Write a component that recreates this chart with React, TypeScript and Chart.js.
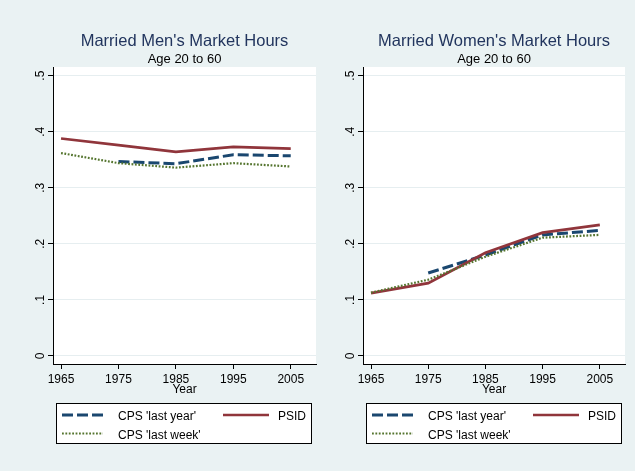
import React, { useEffect, useRef } from "react";
import { Chart, registerables } from "chart.js";

Chart.register(...registerables);

// ---------- data ----------
const years = [1965, 1975, 1985, 1995, 2005];
const xTickLabels = ["1965", "1975", "1985", "1995", "2005"];
const yTickValues = [0, 0.1, 0.2, 0.3, 0.4, 0.5];
const yTickLabels = ["0", ".1", ".2", ".3", ".4", ".5"];
const seriesNames = ["CPS 'last year'", "PSID", "CPS 'last week'"];

const menCpsLastYear = [null, 0.347, 0.343, 0.359, 0.357];
const menPsid = [0.388, 0.376, 0.364, 0.373, 0.37];
const menCpsLastWeek = [0.362, 0.344, 0.336, 0.344, 0.338];

const womenCpsLastYear = [null, 0.148, 0.18, 0.216, 0.224];
const womenPsid = [0.112, 0.13, 0.184, 0.22, 0.234];
const womenCpsLastWeek = [0.113, 0.136, 0.177, 0.211, 0.216];

const panelTitles = ["Married Men's Market Hours", "Married Women's Market Hours"];
const panelSubtitle = "Age 20 to 60";
const xTitle = "Year";

// ---------- style ----------
const FONT = '"Liberation Sans", Arial, Helvetica, sans-serif';
const BG = "#eaf2f3";
const GRID = "#e6eef0";
const TITLE_COLOR = "#22355e";
const NAVY = "#1a476f";
const MAROON = "#90353b";
const GREEN = "#55752f";

Chart.defaults.font.family = FONT;

function makeChart(
  canvas: HTMLCanvasElement,
  idx: number,
  cpsYear: (number | null)[],
  psid: number[],
  cpsWeek: number[],
  padRight: number
) {
  const decor = {
    id: "decor" + idx,
    beforeDraw(chart: any) {
      const { ctx, chartArea: a } = chart;
      ctx.save();
      ctx.fillStyle = "#ffffff";
      ctx.fillRect(a.left, a.top, a.right - a.left, a.bottom - a.top);
      ctx.restore();
    },
    afterDraw(chart: any) {
      const { ctx, chartArea: a } = chart;
      const cx = (a.left + a.right) / 2;
      ctx.save();
      ctx.textAlign = "center";
      ctx.textBaseline = "alphabetic";
      ctx.fillStyle = TITLE_COLOR;
      ctx.font = `16.5px ${FONT}`;
      ctx.fillText(panelTitles[idx], cx, 46);
      ctx.fillStyle = "#000";
      ctx.font = `13px ${FONT}`;
      ctx.fillText(panelSubtitle, cx, 63);

      // rotated y tick labels
      ctx.font = `12px ${FONT}`;
      const ys = chart.scales.y;
      yTickValues.forEach((v, i) => {
        const py = ys.getPixelForValue(v);
        ctx.save();
        ctx.translate(a.left - 9, py);
        ctx.rotate(-Math.PI / 2);
        ctx.textAlign = "center";
        ctx.fillText(yTickLabels[i], 0, 0);
        ctx.restore();
      });

      // legend box
      const L = a.left;
      ctx.fillStyle = "#ffffff";
      ctx.fillRect(L + 3.5, 403.5, 255, 40);
      ctx.strokeStyle = "#000";
      ctx.lineWidth = 1;
      ctx.strokeRect(L + 3.5, 403.5, 255, 40);
      const slots = [
        { x0: L + 9, x1: L + 52, tx: L + 65, y: 415, by: 420 },
        { x0: L + 170, x1: L + 216, tx: L + 225, y: 415, by: 420 },
        { x0: L + 9, x1: L + 50, tx: L + 65, y: 433.5, by: 438.5 },
      ];
      ctx.font = `12px ${FONT}`;
      chart.data.datasets.forEach((ds: any, i: number) => {
        const s = slots[i];
        ctx.strokeStyle = ds.borderColor;
        ctx.lineWidth = ds.borderWidth;
        ctx.setLineDash(ds.borderDash || []);
        ctx.lineCap = "butt";
        ctx.beginPath();
        ctx.moveTo(s.x0, s.y);
        ctx.lineTo(s.x1, s.y);
        ctx.stroke();
        ctx.setLineDash([]);
        ctx.fillStyle = "#000";
        ctx.textAlign = "left";
        ctx.fillText(ds.label, s.tx, s.by);
      });
      ctx.restore();
    },
  };

  const toPts = (arr: (number | null)[]) => years.map((x, i) => ({ x, y: arr[i] }));

  return new Chart(canvas, {
    type: "line",
    data: {
      datasets: [
        {
          label: seriesNames[0],
          data: toPts(cpsYear) as any,
          borderColor: NAVY,
          borderWidth: 3,
          borderDash: [11, 4],
          order: 3,
        },
        {
          label: seriesNames[1],
          data: toPts(psid) as any,
          borderColor: MAROON,
          borderWidth: 2.7,
          order: 2,
        },
        {
          label: seriesNames[2],
          data: toPts(cpsWeek) as any,
          borderColor: GREEN,
          borderWidth: 2.2,
          borderDash: [1.8, 1.6],
          order: 1,
        },
      ],
    },
    options: {
      responsive: false,
      animation: false,
      devicePixelRatio: 1,
      layout: { padding: { left: 0, right: padRight, top: 67, bottom: 71 } },
      plugins: {
        legend: { display: false },
        tooltip: { enabled: false },
        title: { display: false },
      },
      elements: {
        point: { radius: 0 },
        line: { tension: 0, borderCapStyle: "butt", fill: false },
      },
      scales: {
        x: {
          type: "linear",
          min: 1963.6,
          max: 2009.4,
          afterBuildTicks: (s: any) => {
            s.ticks = years.map((v) => ({ value: v }));
          },
          afterFit: (s: any) => {
            s.height = 36;
          },
          ticks: {
            callback: (v: any) => {
              const k = years.indexOf(Number(v));
              return k >= 0 ? xTickLabels[k] : "";
            },
            color: "#000",
            font: { size: 12 },
            padding: 3,
            maxRotation: 0,
            autoSkip: false,
          },
          grid: {
            drawOnChartArea: false,
            drawTicks: true,
            tickLength: 5,
            tickColor: "#000",
          },
          border: { display: true, color: "#000", width: 1 },
          title: {
            display: true,
            text: xTitle,
            color: "#000",
            font: { size: 12 },
            padding: { top: 0, bottom: 3 },
          },
        },
        y: {
          type: "linear",
          min: -0.0143,
          max: 0.5155,
          afterBuildTicks: (s: any) => {
            s.ticks = yTickValues.map((v) => ({ value: v }));
          },
          afterFit: (s: any) => {
            s.width = 53;
          },
          ticks: { display: false },
          grid: {
            color: GRID,
            lineWidth: 1,
            drawTicks: true,
            tickLength: 5,
            tickColor: "#000",
          },
          border: { display: true, color: "#000", width: 1 },
        },
      },
    } as any,
    plugins: [decor],
  });
}

export default function App() {
  const leftRef = useRef<HTMLCanvasElement>(null);
  const rightRef = useRef<HTMLCanvasElement>(null);

  useEffect(() => {
    const charts = [
      makeChart(leftRef.current!, 0, menCpsLastYear, menPsid, menCpsLastWeek, 2),
      makeChart(rightRef.current!, 1, womenCpsLastYear, womenPsid, womenCpsLastWeek, 10),
    ];
    return () => charts.forEach((c) => c.destroy());
  }, []);

  return (
    <div
      style={{
        position: "fixed",
        left: 0,
        top: 0,
        width: 635,
        height: 471,
        background: BG,
        overflow: "hidden",
      }}
    >
      <canvas
        ref={leftRef}
        width={318}
        height={471}
        style={{ position: "absolute", left: 0, top: 0, width: 318, height: 471 }}
      />
      <canvas
        ref={rightRef}
        width={325}
        height={471}
        style={{ position: "absolute", left: 310, top: 0, width: 325, height: 471 }}
      />
    </div>
  );
}
